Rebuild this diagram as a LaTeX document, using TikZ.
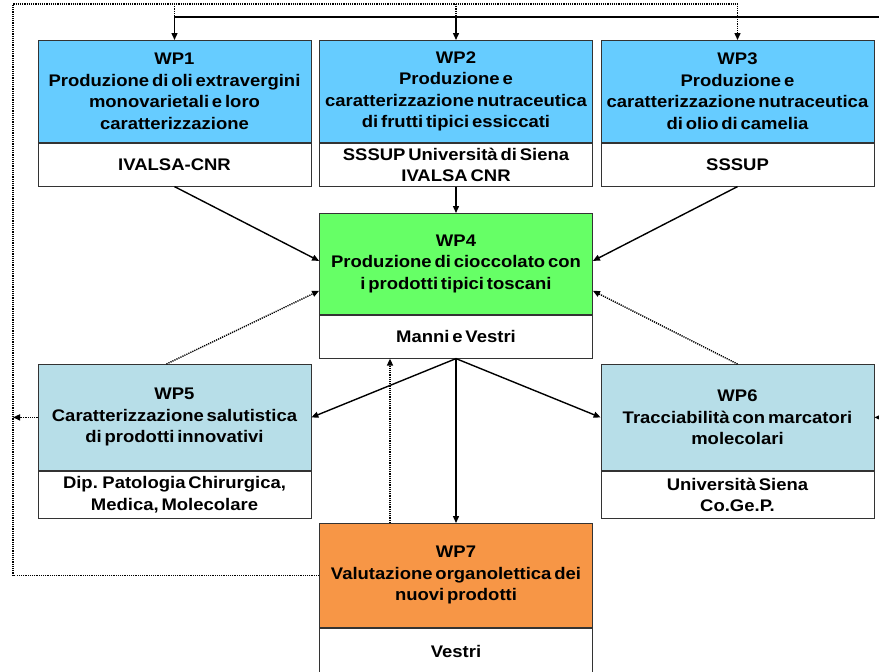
\documentclass[tikz,border=0pt]{standalone}
\usepackage{fontspec}
\newfontfamily\wpfont{Liberation Sans}[FakeStretch=1.1, WordSpace=0.55]
\usetikzlibrary{arrows.meta, positioning, calc}
\definecolor{wpBlue}{HTML}{66CCFF}
\definecolor{wpGreen}{HTML}{66FF66}
\definecolor{wpTeal}{HTML}{B7DEE8}
\definecolor{wpOrange}{HTML}{F79646}

\begin{document}
\begin{tikzpicture}[x=1pt, y=-1pt,
    head/.style={draw=black!80, line width=0.8pt, minimum width=273pt, inner sep=0pt,
      align=center, font=\wpfont\bfseries\fontsize{16.8}{21.5}\selectfont},
    partner/.style={head, fill=white},
    flow/.style={line width=1.4pt, -{Triangle[length=7pt, width=6pt]}},
    fb/.style={line width=1.4pt, dash pattern=on 1.2pt off 1pt, -{Triangle[length=7pt, width=6pt]}}]
    \clip (0,0) rectangle (879,672);
    % work packages: colour part + partner part
    \foreach \n/\cx/\ty/\hc/\hw/\fc/\ttl/\who in
      {1/174.5/40/102/43/wpBlue/{Produzione di oli extravergini\\monovarietali e loro\\caratterizzazione}/{IVALSA-CNR},
       2/456/40/102/43/wpBlue/{Produzione e\\caratterizzazione nutraceutica\\di frutti tipici essiccati}/{SSSUP Università di Siena\\IVALSA CNR},
       3/737.5/40/102/43/wpBlue/{Produzione e\\caratterizzazione nutraceutica\\di olio di camelia}/{SSSUP},
       4/456/213/101/43/wpGreen/{Produzione di cioccolato con\\i prodotti tipici toscani}/{Manni e Vestri},
       5/174.5/364/106/47/wpTeal/{Caratterizzazione salutistica\\di prodotti innovativi}/{Dip. Patologia Chirurgica,\\Medica, Molecolare},
       6/737.5/364/106/47/wpTeal/{Tracciabilità con marcatori\\molecolari}/{Università Siena\\Co.Ge.P.},
       7/456/523/104/46/wpOrange/{Valutazione organolettica dei\\nuovi prodotti}/{Vestri}} {
      \node[head, fill=\fc, minimum height=\hc, anchor=north] (wp\n) at (\cx,\ty) {WP\n\\\ttl};
      \node[partner, minimum height=\hw, anchor=north] (org\n) at (wp\n.south) {\who};
    }
    \coordinate (lft) at (13,4);
    \coordinate (rgt) at (890,17);
    % feedback from WP7
    \draw[fb] (wp7.west) -| (lft) -| (wp3.north);
    \draw[fb, -] (wp1.north |- lft) -- (wp1.north |- rgt);
    \draw[fb, -] (wp2.north |- lft) -- (wp2.north |- rgt);
    \draw[fb] (wp5.west) -- (wp5.west -| lft);
    \draw[fb] ([xshift=-66pt]wp7.north) -- ([xshift=-66pt]org4.south);
    \draw[fb] ([xshift=-8pt]wp5.north) -- ([yshift=24pt]wp4.south west);
    \draw[fb] (wp6.north) -- ([yshift=24pt]wp4.south east);
    % main flow
    \draw[flow] (rgt) -| (wp1.north);
    \draw[flow] (wp2.north |- rgt) -- (wp2.north);
    \draw[flow] (wp6.east -| rgt) -- (wp6.east);
    \draw[flow] (org1.south) -- ([yshift=3pt]wp4.west);
    \draw[flow] (org2.south) -- (wp4.north);
    \draw[flow] (org3.south) -- ([yshift=3pt]wp4.east);
    \draw[flow] (org4.south) -- (wp5.east);
    \draw[flow] (org4.south) -- (wp6.west);
    \draw[flow] (org4.south) -- (wp7.north);
\end{tikzpicture}
\end{document}
